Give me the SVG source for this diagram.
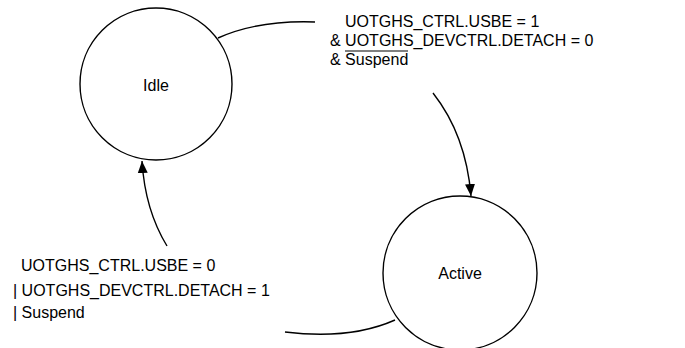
<svg xmlns="http://www.w3.org/2000/svg" width="685" height="348" viewBox="0 0 685 348">
<style>
.node{fill:#fff;stroke:#000;stroke-width:1.4}
.lbl{font-family:"Liberation Sans",Arial,sans-serif;font-size:16px;fill:#000}
.edge{fill:none;stroke:#000;stroke-width:1.4}
</style>
<defs>
<marker id="arr" markerUnits="userSpaceOnUse" markerWidth="13" markerHeight="13" viewBox="0 0 13 13" refX="12" refY="6.5" orient="auto">
<path d="M0,1.5 L12,6.5 L0,11.5 Z" fill="#000"/>
</marker>
</defs>
<rect width="685" height="348" fill="#fff"/>
<g id="idle">
<circle class="node" cx="156" cy="84" r="76"/>
<text class="lbl" x="156" y="91" text-anchor="middle">Idle</text>
</g>
<g id="active">
<circle class="node" cx="460" cy="273" r="77"/>
<text class="lbl" x="460" y="279" text-anchor="middle">Active</text>
</g>
<g id="connectors">
<path class="edge" d="M218,38 Q258,20 315,22"/>
<path class="edge" d="M433,93 Q466,135 471,196" marker-end="url(#arr)"/>
<path class="edge" d="M395,320 Q350,340 285,332"/>
<path class="edge" d="M167,246 Q145,210 142,161" marker-end="url(#arr)"/>
</g>
<g id="label-idle-active">
<text class="lbl" x="345" y="27">UOTGHS_CTRL.USBE = 1</text>
<text class="lbl" x="330" y="46">&amp; UOTGHS_DEVCTRL.DETACH = 0</text>
<text class="lbl" x="330" y="65">&amp; Suspend</text>
<line x1="345" y1="51" x2="408" y2="51" stroke="#000" stroke-width="1.2"/>
</g>
<g id="label-active-idle">
<text class="lbl" x="21" y="271">UOTGHS_CTRL.USBE = 0</text>
<text class="lbl" x="13" y="296">| UOTGHS_DEVCTRL.DETACH = 1</text>
<text class="lbl" x="13" y="318">| Suspend</text>
</g>
</svg>
